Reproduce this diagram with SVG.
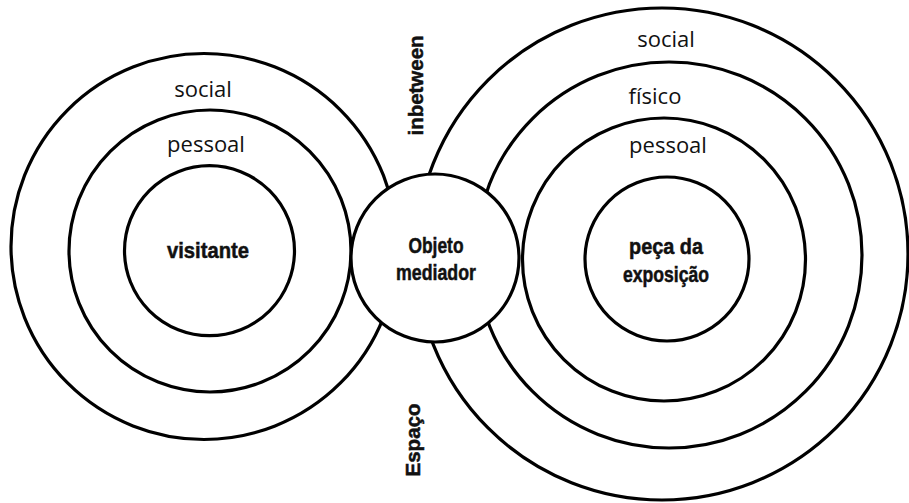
<svg xmlns="http://www.w3.org/2000/svg" width="909" height="503" viewBox="0 0 909 503">
<style>
.ring{fill:none;stroke:#000;stroke-width:3.2}
.disc{fill:#fff;stroke:#000;stroke-width:3.2}
.lbl{font-family:"Open Sans","Noto Sans","DejaVu Sans",sans-serif;font-size:22px;fill:#111;text-anchor:middle}
.bold{font-family:"Liberation Sans Narrow","Liberation Sans",Arial,sans-serif;font-weight:bold;font-size:22px;fill:#111;stroke:#111;stroke-width:0.5;text-anchor:middle}
.side{font-size:20px}
</style>
<rect width="909" height="503" fill="#fff"/>
<g id="visitante-rings">
<circle class="ring" cx="204" cy="246.5" r="193"/>
<circle class="ring" cx="210" cy="251" r="141"/>
<circle class="ring" cx="209.5" cy="250.7" r="85"/>
<text class="lbl" x="203" y="97">social</text>
<text class="lbl" x="206" y="152">pessoal</text>
<text class="bold" x="208" y="258" textLength="82" lengthAdjust="spacingAndGlyphs">visitante</text>
</g>
<g id="peca-rings">
<circle class="ring" cx="662" cy="254" r="246"/>
<circle class="ring" cx="669" cy="255" r="193"/>
<circle class="ring" cx="664" cy="259.5" r="141.5"/>
<circle class="ring" cx="667" cy="259" r="82"/>
<text class="lbl" x="666" y="47">social</text>
<text class="lbl" x="655" y="104">físico</text>
<text class="lbl" x="668" y="153">pessoal</text>
<text class="bold" x="666" y="254" textLength="74" lengthAdjust="spacingAndGlyphs">peça da</text>
<text class="bold" x="666" y="282" textLength="86" lengthAdjust="spacingAndGlyphs">exposição</text>
</g>
<g id="objeto-mediador">
<circle class="disc" cx="435" cy="258" r="84"/>
<text class="bold" x="436" y="253" textLength="55" lengthAdjust="spacingAndGlyphs">Objeto</text>
<text class="bold" x="436" y="280" textLength="80" lengthAdjust="spacingAndGlyphs">mediador</text>
</g>
<g id="espaco-labels">
<text class="bold side" transform="translate(423,85.5) rotate(-90)" x="0" y="0" textLength="100" lengthAdjust="spacingAndGlyphs">inbetween</text>
<text class="bold side" transform="translate(420,440) rotate(-90)" x="0" y="0" textLength="73" lengthAdjust="spacingAndGlyphs">Espaço</text>
</g>
<g id="connectors"/>
</svg>
